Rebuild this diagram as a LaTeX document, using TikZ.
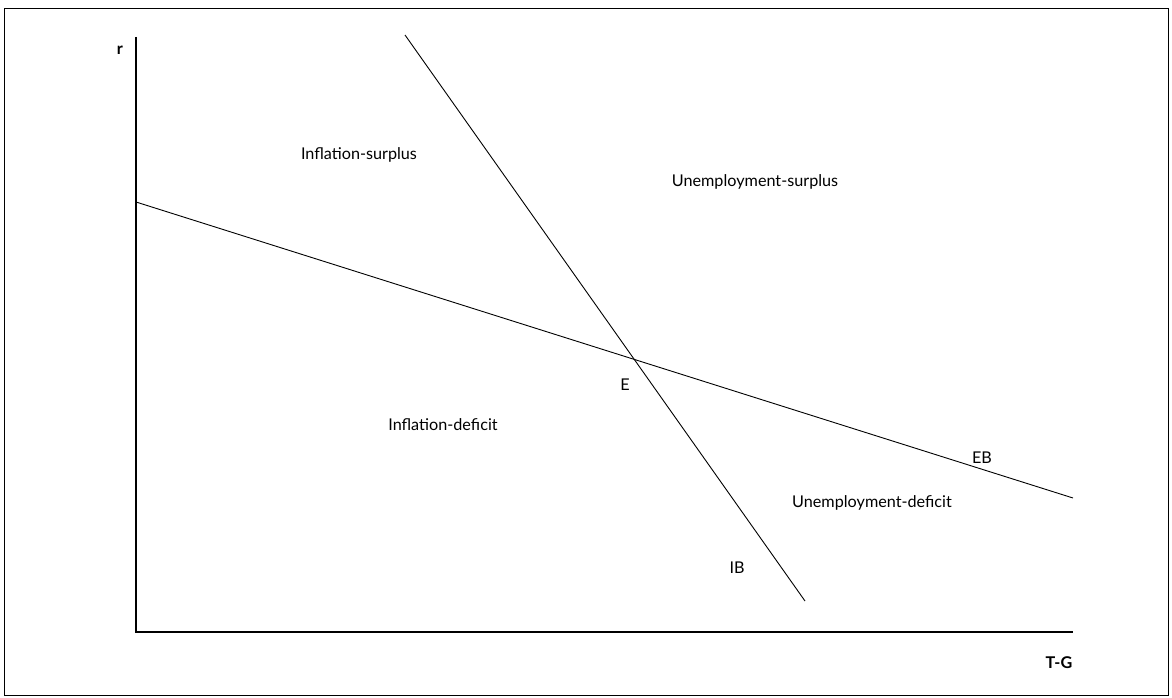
\documentclass[tikz,border=0pt]{standalone}
\usepackage{fontspec}
\setmainfont{Lato}
\begin{document}
\begin{tikzpicture}[x=1pt,y=-1pt,
  lbl/.style={font=\fontsize{16.2}{19}\selectfont, inner sep=0pt},
  axlbl/.style={font=\fontsize{16.2}{19}\selectfont\bfseries, inner sep=0pt},
  curve/.style={line width=0.9pt},
  axis/.style={line width=1.2pt}]
\useasboundingbox (0,0) rectangle (1172,698);
\draw[line width=1pt] (4,9) rectangle (1168,695);
% axes
\coordinate (top) at (136,37);
\coordinate (orig) at (136,632);
\coordinate (xend) at (1073,632);
\draw[axis] (top) -- (orig) -- (xend);
% curves
\coordinate (eb1) at (136,202);
\coordinate (eb2) at (1073,498);
\coordinate (ib1) at (405,35);
\coordinate (ib2) at (805,601);
\draw[curve] (eb1) -- (eb2);
\draw[curve] (ib1) -- (ib2);
% labels
\node[axlbl] (r) at (120,50) {r};
\node[axlbl] (tg) at (1059,663) {T-G};
\node[lbl] (infs) at (359,155) {Inflation-surplus};
\node[lbl] (unes) at (755,182) {Unemployment-surplus};
\node[lbl] (infd) at (443,425) {Inflation-deficit};
\node[lbl] (e) at (625,385) {E};
\node[lbl] (ebl) at (982,458) {EB};
\node[lbl] (uned) at (872,503) {Unemployment-deficit};
\node[lbl] (ibl) at (737,568) {IB};
\end{tikzpicture}
\end{document}
